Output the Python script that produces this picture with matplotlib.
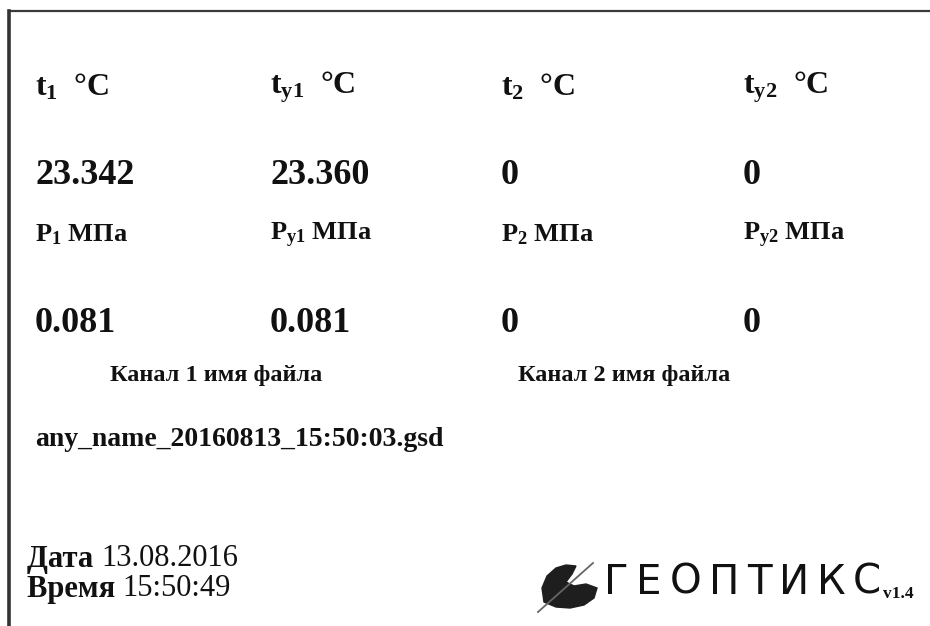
import matplotlib
matplotlib.use("Agg")
import matplotlib.pyplot as plt
from matplotlib.patches import Polygon

# ---- data shown on the device screen ----
temp_labels = ["t$_\\mathrm{1}$  °C", "t$_\\mathrm{y1}$  °C", "t$_\\mathrm{2}$  °C", "t$_\\mathrm{y2}$  °C"]
temp_values = ["23.342", "23.360", "0", "0"]
press_labels = ["P$_\\mathrm{1}$ МПа", "P$_\\mathrm{y1}$ МПа", "P$_\\mathrm{2}$ МПа", "P$_\\mathrm{y2}$ МПа"]
press_values = ["0.081", "0.081", "0", "0"]
channel_titles = ["Канал 1 имя файла", "Канал 2 имя файла"]
channel_files = ["any_name_20160813_15:50:03.gsd", ""]
date_str = "13.08.2016"
time_str = "15:50:49"
brand = "ГЕОПТИКС"
version = "v1.4"

# ---- layout (pixels) ----
W, H = 930, 626
COL_X = [35, 270, 501, 743]
ROW_Y = {"tlab": 87, "tval": 175, "plab": 235, "pval": 323, "chan": 375, "file": 440}
CHAN_X = [216, 624]

plt.rcParams["font.family"] = ["Liberation Serif", "DejaVu Serif"]
plt.rcParams["mathtext.fontset"] = "custom"
plt.rcParams["mathtext.rm"] = "Liberation Serif:bold"
plt.rcParams["mathtext.it"] = "Liberation Serif:bold"
plt.rcParams["mathtext.bf"] = "Liberation Serif:bold"

fig = plt.figure(figsize=(W / 100, H / 100), dpi=100)
ax = fig.add_axes([0, 0, 1, 1])
ax.set_xlim(0, W)
ax.set_ylim(H, 0)
ax.axis("off")

ink = "#111111"

# screen border (top and left only)
ax.plot([9, W], [11, 11], color="#3a3a3a", lw=1.6)
ax.plot([8.5, 8.5], [11, H], color="#333333", lw=2.6)

for x, lab, val in zip(COL_X, temp_labels, temp_values):
    ax.text(x, ROW_Y["tlab"], lab, fontsize=23, fontweight="bold", color=ink, va="center")
    ax.text(x, ROW_Y["tval"], val, fontsize=26, fontweight="bold", color=ink, va="center")

for x, lab, val in zip(COL_X, press_labels, press_values):
    ax.text(x, ROW_Y["plab"], lab, fontsize=19, fontweight="bold", color=ink, va="center")
    ax.text(x, ROW_Y["pval"], val, fontsize=26, fontweight="bold", color=ink, va="center")

for x, title in zip(CHAN_X, channel_titles):
    ax.text(x, ROW_Y["chan"], title, fontsize=17.5, fontweight="bold", color=ink,
            va="center", ha="center")
ax.text(COL_X[0], ROW_Y["file"], channel_files[0], fontsize=20, fontweight="bold",
        color=ink, va="center")

# date / time
for y, word, val in [(559, "Дата", date_str), (589, "Время", time_str)]:
    t = ax.text(27, y, word + " ", fontsize=22, fontweight="bold", color=ink, va="center")
    ax.annotate(val, xycoords=t, xy=(1, 0.5), va="center", fontsize=22, color=ink)

# logo: feather + brand name (letter-spaced)
feather = Polygon([(544, 602), (542, 588), (547, 576), (556, 568), (566, 565),
                   (576, 566), (572, 574), (566, 582), (574, 586), (586, 584),
                   (597, 588), (594, 598), (584, 605), (570, 608), (556, 607)],
                  closed=True, color="#1e1e1e")
ax.add_patch(feather)
ax.plot([538, 593], [612, 563], color="#666666", lw=1.3)

prev = ax.text(604, 583, brand[0], fontsize=29, family="DejaVu Sans", color=ink, va="center")
for ch in brand[1:]:
    prev = ax.annotate(ch, xycoords=prev, xy=(1, 0.5), xytext=(5.5, 0),
                       textcoords="offset points", va="center",
                       fontsize=29, family="DejaVu Sans", color=ink)
ax.annotate(version, xycoords=prev, xy=(1, 0.12), xytext=(1, 0),
            textcoords="offset points", va="baseline",
            fontsize=12.5, fontweight="bold", color=ink)

fig.savefig("out.png", dpi=100)
